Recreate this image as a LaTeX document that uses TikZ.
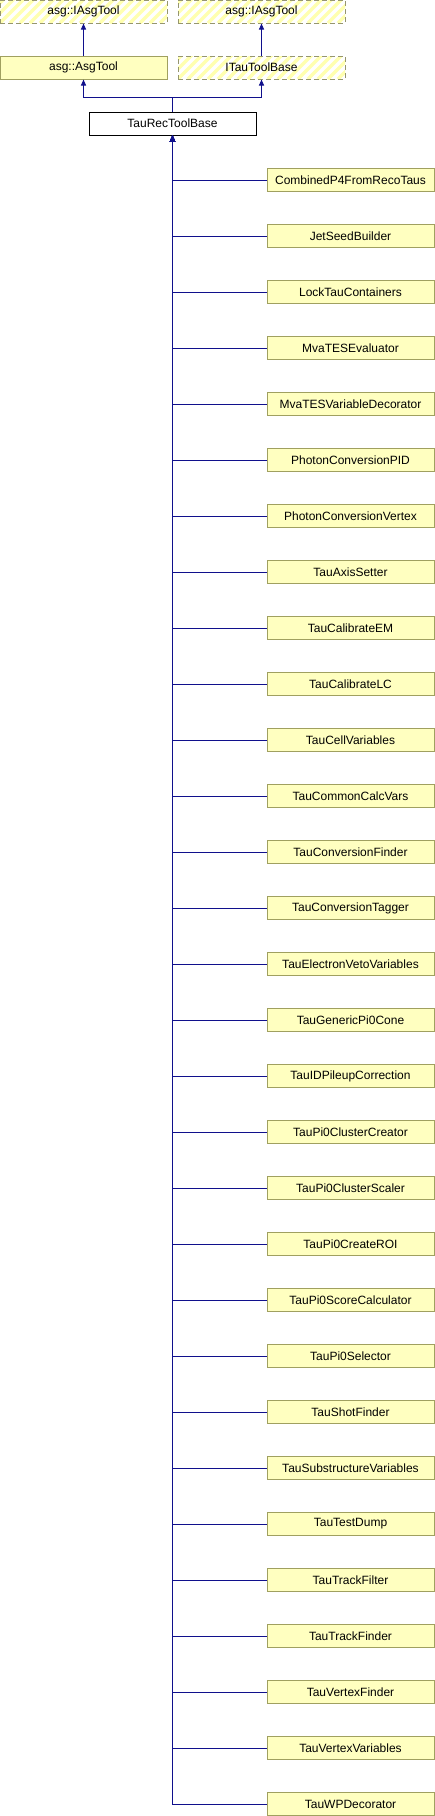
\documentclass[tikz,border=0pt]{standalone}
\usepackage{fontspec}
\setmainfont{Liberation Sans}
\usepackage{tikz}
\usetikzlibrary{arrows.meta,positioning}
\definecolor{fondoCl}{RGB}{255,255,192}
\definecolor{bordeCl}{RGB}{160,160,96}
\definecolor{bordeUnd}{RGB}{150,150,110}
\definecolor{rayaUnd}{RGB}{255,255,176}
\definecolor{azulInh}{RGB}{16,16,140}

\begin{document}
\begin{tikzpicture}[x=1pt, y=1pt,
      cls/.style   = {rectangle, minimum width=167pt, minimum height=23pt, inner sep=0pt,
          draw=bordeCl, fill=fondoCl, line width=1pt,
          font=\fontsize{12}{14}\selectfont},
      base/.style  = {cls, fill=white, draw=black},
      undoc/.style = {cls, fill=white, draw=bordeUnd, dash pattern=on 5pt off 3pt,
          path picture={\foreach \k in {-30,-20,...,170}
            \draw[rayaUnd, line width=3.5pt, solid]
              ([xshift=\k pt]path picture bounding box.south west) -- ++(40,40);}},
      inh/.style   = {-{Triangle[length=6pt,width=5pt]}, line width=1pt, color=azulInh},
    ]
    \useasboundingbox (0,0) rectangle (435,-1816);

    % ── Interfaces ───────────────────────────────────────────────
    \node[undoc] (iasgA) at (83.5,-11.5)  {asg::IAsgTool};
    \node[undoc] (iasgB) at (261.5,-11.5) {asg::IAsgTool};
    \node[cls]   (asg)   at (83.5,-67.5)  {asg::AsgTool};
    \node[undoc] (itau)  at (261.5,-67.5) {ITauToolBase};

    % ── Base ─────────────────────────────────────────────────────
    \node[base]  (trtb)  at (172.5,-123.5) {TauRecToolBase};
    \coordinate  (jn)    at (172.5,-97);

    % ── Derivadas ────────────────────────────────────────────────
    \node[cls] (d01) at (350.5,-180)  {CombinedP4FromRecoTaus};
    \node[cls] (d02) at (350.5,-236)  {JetSeedBuilder};
    \node[cls] (d03) at (350.5,-292)  {LockTauContainers};
    \node[cls] (d04) at (350.5,-348)  {MvaTESEvaluator};
    \node[cls] (d05) at (350.5,-404)  {MvaTESVariableDecorator};
    \node[cls] (d06) at (350.5,-460)  {PhotonConversionPID};
    \node[cls] (d07) at (350.5,-516)  {PhotonConversionVertex};
    \node[cls] (d08) at (350.5,-572)  {TauAxisSetter};
    \node[cls] (d09) at (350.5,-628)  {TauCalibrateEM};
    \node[cls] (d10) at (350.5,-684)  {TauCalibrateLC};
    \node[cls] (d11) at (350.5,-740)  {TauCellVariables};
    \node[cls] (d12) at (350.5,-796)  {TauCommonCalcVars};
    \node[cls] (d13) at (350.5,-852)  {TauConversionFinder};
    \node[cls] (d14) at (350.5,-908)  {TauConversionTagger};
    \node[cls] (d15) at (350.5,-964)  {TauElectronVetoVariables};
    \node[cls] (d16) at (350.5,-1020) {TauGenericPi0Cone};
    \node[cls] (d17) at (350.5,-1076) {TauIDPileupCorrection};
    \node[cls] (d18) at (350.5,-1132) {TauPi0ClusterCreator};
    \node[cls] (d19) at (350.5,-1188) {TauPi0ClusterScaler};
    \node[cls] (d20) at (350.5,-1244) {TauPi0CreateROI};
    \node[cls] (d21) at (350.5,-1300) {TauPi0ScoreCalculator};
    \node[cls] (d22) at (350.5,-1356) {TauPi0Selector};
    \node[cls] (d23) at (350.5,-1412) {TauShotFinder};
    \node[cls] (d24) at (350.5,-1468) {TauSubstructureVariables};
    \node[cls] (d25) at (350.5,-1524) {TauTestDump};
    \node[cls] (d26) at (350.5,-1580) {TauTrackFilter};
    \node[cls] (d27) at (350.5,-1636) {TauTrackFinder};
    \node[cls] (d28) at (350.5,-1692) {TauVertexFinder};
    \node[cls] (d29) at (350.5,-1748) {TauVertexVariables};
    \node[cls] (d30) at (350.5,-1804) {TauWPDecorator};

    % ── Herencia ─────────────────────────────────────────────────
    \draw[inh] (asg)  -- (iasgA);
    \draw[inh] (itau) -- (iasgB);
    \draw[inh] (trtb.north) -- (jn) -| (asg.south);
    \draw[inh] (jn) -| (itau.south);

    \foreach \d in {d01,d02,d03,d04,d05,d06,d07,d08,d09,d10,
                    d11,d12,d13,d14,d15,d16,d17,d18,d19,d20,
                    d21,d22,d23,d24,d25,d26,d27,d28,d29,d30}
      \draw[inh] (\d.west) -| (trtb.south);

  \end{tikzpicture}
\end{document}
